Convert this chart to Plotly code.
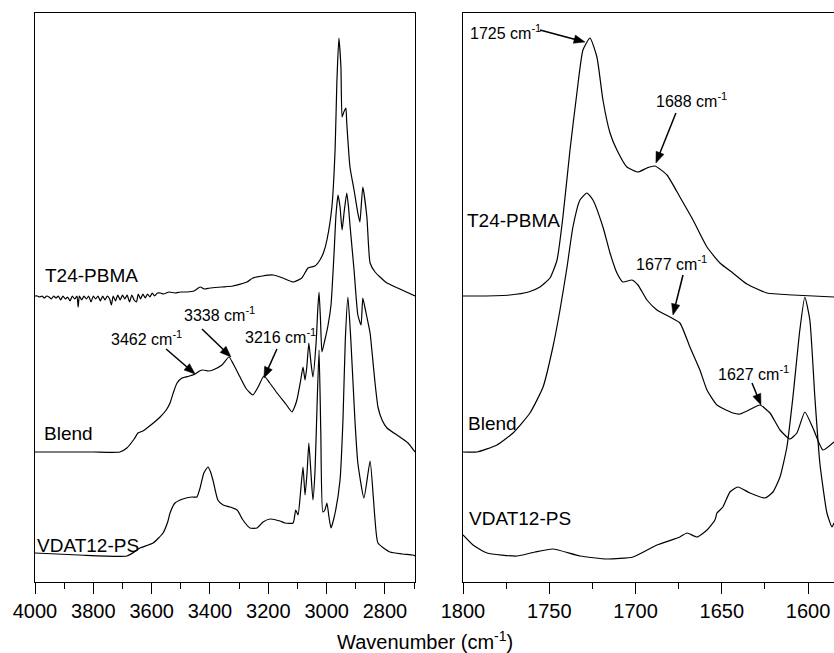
import math
import plotly.graph_objects as go

# ---------------- data (wavenumber cm-1, absorbance in arbitrary offset units) ----------------
t24_left_wn = [4000, 3992, 3984, 3976, 3968, 3960, 3952, 3944, 3936, 3928, 3920, 3912, 3904, 3896, 3888,
               3880, 3872, 3864, 3856, 3852, 3848, 3840, 3832, 3824, 3816, 3808, 3800, 3792, 3784, 3776,
               3768, 3760, 3752, 3744, 3738, 3732, 3724, 3716, 3708, 3700, 3692, 3684, 3676, 3668, 3660,
               3652, 3646, 3638, 3630, 3622, 3614, 3606, 3598, 3590, 3580, 3570, 3560, 3540, 3520, 3500,
               3479, 3455, 3434, 3420, 3400, 3360, 3321, 3273, 3253, 3220, 3184, 3150, 3115, 3085, 3064,
               3040, 3023, 3010, 2999, 2982, 2971, 2965, 2958, 2951, 2947, 2941, 2934, 2931, 2920, 2906,
               2893, 2886, 2876, 2862, 2851, 2834, 2817, 2793, 2749, 2697]
t24_left_ab = [286, 286, 285, 286, 284, 286, 285, 283, 286, 284, 286, 282, 286, 283, 285,
               281, 286, 283, 286, 275, 286, 282, 286, 283, 286, 280, 286, 283, 286, 281,
               286, 282, 286, 283, 277, 286, 281, 287, 282, 287, 283, 287, 280, 287, 282,
               280, 288, 283, 288, 284, 288, 285, 289, 286, 289, 289, 288, 290, 289, 290,
               290, 291, 295, 293, 294, 295, 296, 300, 304, 306, 307, 304, 300, 304, 314,
               316, 322, 330, 342, 375, 432, 499, 544, 515, 465, 470, 474, 459, 415, 392,
               369, 360, 395, 365, 319, 310, 305, 299, 293, 286]

blend_left_wn = [4000, 3900, 3800, 3709, 3685, 3660, 3647, 3630, 3616, 3590, 3571, 3550, 3537, 3525, 3513,
                 3496, 3470, 3451, 3436, 3424, 3405, 3390, 3359, 3335, 3320, 3297, 3275, 3253, 3235, 3215,
                 3195, 3170, 3140, 3119, 3110, 3102, 3090, 3081, 3074, 3068, 3061, 3054, 3047, 3036, 3030,
                 3026, 3021, 3016, 3006, 2995, 2985, 2974, 2968, 2961, 2954, 2947, 2940, 2931, 2925, 2920,
                 2906, 2893, 2882, 2876, 2869, 2862, 2851, 2845, 2834, 2824, 2810, 2793, 2749, 2721, 2697]
blend_left_ab = [130, 130, 130, 130, 134, 143, 149, 151, 154, 160, 165, 172, 179, 190, 199,
                 204, 206, 208, 211, 212, 211, 212, 217, 225, 218, 205, 193, 187, 195, 206,
                 199, 189, 178, 170, 175, 182, 200, 215, 202, 215, 239, 220, 205, 240, 275,
                 290, 262, 230, 242, 257, 277, 332, 367, 387, 375, 352, 370, 389, 375, 357,
                 312, 267, 257, 284, 275, 265, 249, 232, 199, 175, 162, 154, 145, 139, 130]

vdat_left_wn = [4000, 3850, 3685, 3660, 3640, 3595, 3561, 3545, 3537, 3520, 3493, 3462, 3445, 3434, 3421,
                3407, 3398, 3390, 3373, 3355, 3331, 3307, 3287, 3263, 3239, 3218, 3194, 3160, 3143, 3115,
                3106, 3098, 3090, 3081, 3074, 3067, 3061, 3054, 3047, 3040, 3033, 3026, 3020, 3013, 3006,
                2999, 2992, 2985, 2971, 2954, 2944, 2936, 2927, 2917, 2903, 2893, 2872, 2851, 2840, 2834,
                2824, 2783, 2740, 2704, 2697]
vdat_left_ab = [29, 27, 26, 30, 34, 39, 49, 60, 69, 79, 83, 85, 85, 94, 109,
                115, 110, 102, 82, 77, 75, 72, 62, 54, 54, 60, 63, 61, 59, 59,
                72, 67, 88, 115, 87, 110, 139, 110, 82, 110, 175, 232, 150, 70, 72,
                79, 65, 54, 69, 102, 162, 242, 285, 242, 162, 119, 84, 121, 85, 62,
                39, 30, 28, 27, 26]

t24_right_wn = [1800, 1790, 1772.8, 1762, 1755.4, 1749.6, 1745.5, 1742.1, 1738.0, 1734.0, 1730.5, 1726.4,
                1722.4, 1718.9, 1714.8, 1710.8, 1705.0, 1698.6, 1693.4, 1688.8, 1681.8, 1674.3, 1666.7,
                1658.6, 1651.1, 1643.6, 1635.5, 1623.9, 1608.8, 1585]
t24_right_ab = [286, 286, 287, 290, 295, 304, 322, 365, 432, 489, 532, 544,
                525, 482, 449, 432, 415, 410, 414, 416, 407, 385, 362,
                335, 319, 309, 298, 289, 287, 285]

blend_right_wn = [1800, 1791.9, 1780.3, 1771.0, 1761.2, 1753.6, 1747.9, 1743.8, 1739.7, 1736.3, 1732.2,
                  1728.2, 1724.7, 1718.9, 1714.8, 1710.8, 1707.3, 1702.1, 1698.6, 1693.4, 1687.6, 1680.1,
                  1674.3, 1668.5, 1662.7, 1658.6, 1652.8, 1643.6, 1639.5, 1632.0, 1627.9, 1622.1, 1616.3,
                  1610.5, 1606.5, 1601.9, 1597.2, 1591.4, 1585]
blend_right_ab = [130, 130, 137, 149, 169, 195, 235, 272, 315, 355, 382,
                  389, 382, 355, 329, 309, 300, 302, 297, 282, 272, 265,
                  259, 235, 212, 192, 177, 169, 168, 174, 177, 169, 152,
                  143, 149, 170, 154, 132, 140]

vdat_right_wn = [1800, 1794.2, 1786.1, 1768.7, 1758.3, 1747.9, 1732.2, 1716.6, 1701.5, 1687.6, 1674.3,
                 1670.2, 1664.4, 1658.6, 1654.0, 1652.8, 1649.4, 1645.3, 1640.7, 1633.7, 1625.0, 1620.4,
                 1616.3, 1612.3, 1608.8, 1604.8, 1601.9, 1599.0, 1596.1, 1593.2, 1589.1, 1586.2, 1585]
vdat_right_ab = [47, 37, 29, 26, 30, 33, 26, 23, 25, 37, 45,
                 49, 45, 52, 62, 69, 75, 90, 95, 89, 84, 90,
                 105, 135, 185, 252, 285, 262, 185, 119, 69, 55, 59]

series_names = ["T24-PBMA", "Blend", "VDAT12-PS"]

# peak annotations
peak_labels = ["3462", "3338", "3216", "1725", "1688", "1677", "1627"]
peak_tip_wn = [3451, 3328, 3215, 1729.3, 1688.2, 1678.3, 1627.3]
peak_tip_ab = [208, 225, 204, 540, 419, 267, 177]
peak_txt_wn = [3619, 3366, 3157, 1775.1, 1667.3, 1678.9, 1631.4]
peak_txt_ab = [244, 268, 246, 550, 482, 319, 209]
peak_tail_dx = [-29, -29, 13, -45, 20, 10, -9]     # arrow tail offset from tip, screen px
peak_tail_dy = [-25, -28, -29, -12, -50, -40, -22]
peak_panel = [1, 1, 1, 2, 2, 2, 2]

# series label positions
lab_left_wn = [3972, 3976, 4000]
lab_left_ab = [307, 149, 37]
lab_right_wn = [1798.8, 1798.3, 1797.7]
lab_right_ab = [362, 159, 64]

# ---------------- figure ----------------
FONT = "Liberation Sans, Arial, Helvetica, sans-serif"
W, H = 834, 653
L1, R1, L2 = 35, 415, 463
TOP, BOT = 13, 582
X1RANGE = [4000, 2697]
X2RANGE = [1800, 1585]
YRANGE = [0, BOT - TOP]

fig = go.Figure()
line = dict(color="black", width=1.2, shape="spline", smoothing=0.5)
for wn, ab in [(t24_left_wn, t24_left_ab), (blend_left_wn, blend_left_ab), (vdat_left_wn, vdat_left_ab)]:
    fig.add_trace(go.Scatter(x=wn, y=ab, mode="lines", line=line, xaxis="x", yaxis="y",
                             hoverinfo="skip"))
for wn, ab in [(t24_right_wn, t24_right_ab), (blend_right_wn, blend_right_ab), (vdat_right_wn, vdat_right_ab)]:
    fig.add_trace(go.Scatter(x=wn, y=ab, mode="lines", line=line, xaxis="x2", yaxis="y2",
                             hoverinfo="skip"))

xcommon = dict(showline=True, linecolor="black", linewidth=1, mirror=True, ticks="outside",
               ticklen=11, tickwidth=1, tickcolor="black", showgrid=False, zeroline=False,
               automargin=False, tickfont=dict(size=20, color="black", family=FONT))
ycommon = dict(range=YRANGE, showline=True, linecolor="black", linewidth=1, ticks="",
               showticklabels=False, showgrid=False, zeroline=False, domain=[0, 1], automargin=False)

fig.update_layout(
    width=W, height=H,
    margin=dict(l=0, r=0, t=TOP, b=H - BOT, autoexpand=False),
    paper_bgcolor="white", plot_bgcolor="white",
    showlegend=False,
    font=dict(family=FONT, color="black"),
    xaxis=dict(domain=[L1 / W, R1 / W], range=X1RANGE, dtick=200, tick0=0, anchor="y",
               minor=dict(ticks="outside", ticklen=6, dtick=100, tickcolor="black", tickwidth=1),
               **xcommon),
    yaxis=dict(anchor="x", mirror=True, **ycommon),
    xaxis2=dict(domain=[L2 / W, 1], range=X2RANGE, dtick=50, tick0=0, anchor="y2",
                minor=dict(ticks="outside", ticklen=6, dtick=25, tickcolor="black", tickwidth=1),
                **xcommon),
    yaxis2=dict(anchor="x2", mirror=False, **ycommon),
)

ann = []
for i, name in enumerate(series_names):
    ann.append(dict(x=lab_left_wn[i], y=lab_left_ab[i], xref="x", yref="y", text=name, showarrow=False,
                    xanchor="left", yanchor="middle", font=dict(size=19, family=FONT, color="black")))
    ann.append(dict(x=lab_right_wn[i], y=lab_right_ab[i], xref="x2", yref="y2", text=name, showarrow=False,
                    xanchor="left", yanchor="middle", font=dict(size=19, family=FONT, color="black")))

# pixel scales of the two panels (for arrow geometry)
kx1 = (R1 - L1) / abs(X1RANGE[0] - X1RANGE[1])
kx2 = (W - L2) / abs(X2RANGE[0] - X2RANGE[1])
ky = (BOT - TOP) / (YRANGE[1] - YRANGE[0])

shapes = []
HEAD_LEN, HEAD_HALF = 11.0, 4.2
for i, lab in enumerate(peak_labels):
    xr = "x" if peak_panel[i] == 1 else "x2"
    yr = "y" if peak_panel[i] == 1 else "y2"
    kx = kx1 if peak_panel[i] == 1 else kx2
    ann.append(dict(x=peak_txt_wn[i], y=peak_txt_ab[i], xref=xr, yref=yr,
                    text=lab + " cm<sup>-1</sup>", showarrow=False, xanchor="center", yanchor="middle",
                    font=dict(size=16, family=FONT, color="black")))
    # arrow geometry in screen px relative to tip, converted to data units (x axis reversed)
    dx, dy = peak_tail_dx[i], peak_tail_dy[i]
    ln = math.hypot(dx, dy)
    ux, uy = -dx / ln, -dy / ln          # direction tail -> tip
    bx, by = -ux * HEAD_LEN, -uy * HEAD_LEN  # head base relative to tip
    nx, ny = -uy * HEAD_HALF, ux * HEAD_HALF

    def to_data(px, py, tw=peak_tip_wn[i], ta=peak_tip_ab[i], kx=kx):
        return tw - px / kx, ta - py / ky

    tx, ty = to_data(dx, dy)
    hx, hy = to_data(bx + ux * 1.0, by + uy * 1.0)
    shapes.append(dict(type="line", xref=xr, yref=yr, x0=tx, y0=ty, x1=hx, y1=hy,
                       line=dict(color="black", width=1.5)))
    p0 = to_data(0, 0)
    p1 = to_data(bx + nx, by + ny)
    p2 = to_data(bx - nx, by - ny)
    shapes.append(dict(type="path", xref=xr, yref=yr,
                       path=f"M {p0[0]},{p0[1]} L {p1[0]},{p1[1]} L {p2[0]},{p2[1]} Z",
                       fillcolor="black", line=dict(color="black", width=0.5)))

ann.append(dict(x=(327 + 522) / 2 / W, y=-(640 - BOT) / (BOT - TOP), xref="paper", yref="paper",
                text="Wavenumber (cm<sup>-1</sup>)", showarrow=False, xanchor="center", yanchor="middle",
                font=dict(size=20, family=FONT, color="black")))

fig.update_layout(annotations=ann, shapes=shapes)
fig.write_html("out.html")
